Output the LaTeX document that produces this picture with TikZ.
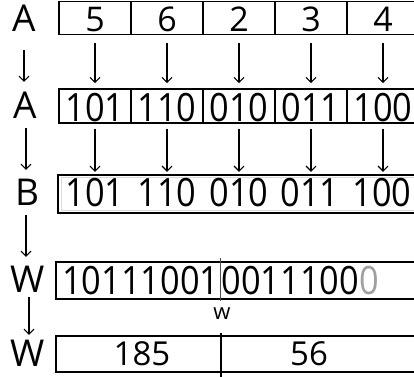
\documentclass[tikz,border=0pt]{standalone}
\usepackage{fontspec}
\setmainfont{Open Sans}
\newfontfamily\digfont[FakeStretch=0.88]{Open Sans}
\usetikzlibrary{arrows.meta}
\newcommand{\fsz}[1]{\fontsize{#1}{#1}\selectfont}
\begin{document}
\begin{tikzpicture}[x=1pt,y=-1pt,
  cellbox/.style={draw,line width=1.6pt,minimum width=72pt,inner sep=0pt,anchor=center,text depth=0pt},
  rowone/.style={cellbox,minimum height=33pt,font=\fsz{34},text height=26pt},
  rowtwo/.style={cellbox,minimum height=34pt,font=\digfont\fsz{39},text height=30pt},
  lab/.style={inner sep=0pt,font=\fsz{37},text height=25pt,text depth=0pt},
  bigtxt/.style={inner sep=0pt,font=\digfont\fsz{39}},
  wtxt/.style={inner sep=0pt,font=\digfont\fsz{39}},
  arr/.style={-{Straight Barb[length=5pt,width=10pt]},line width=1.1pt},
  frame/.style={draw,line width=1.6pt}]
\useasboundingbox (0,0) rectangle (414,376);
\clip (0,0) rectangle (414,376);
% labels
\node[lab] (la1) at (24,19) {A};
\node[lab] (la2) at (25,106) {A};
\node[lab] (lb) at (27,193) {B};
\node[lab] (lw1) at (28,280) {W};
\node[lab] (lw2) at (28,354) {W};
% row 1
\foreach \i/\x/\t in {1/95/5,2/167/6,3/239/2,4/311/3,5/383/4}
  \node[rowone] (a\i) at (\x,18) {\t};
% row 2
\foreach \i/\x/\t in {1/95/101,2/167/110,3/239/010,4/311/011,5/383/100}
  \node[rowtwo] (c\i) at (\x,106) {\t};
% row 3
\draw[frame] (58,175) rectangle (424,213);
\draw[gray!30,line width=0.8pt] (61,177.8) rectangle (424,210.2);
\foreach \i/\x/\t in {1/95/101,2/167/110,3/239/010,4/310/011,5/382/100}
  \node[bigtxt,minimum height=30pt] (b\i) at (\x,193) {\t};
% row 4
\draw[frame] (56,262) rectangle (424,299);
\node[wtxt,anchor=east] (wl) at (219.5,280.5) {10111001};
\node[wtxt,anchor=west] (wr) at (221.5,280.5) {0011100\textcolor{gray!75}{0}};
\draw[line width=1pt,black!70] (220,258) -- (220,301);
\node[inner sep=0pt,font=\fsz{22}] (wlab) at (222,314) {w};
% row 5
\draw[frame] (56,336) rectangle (424,372);
\draw[line width=1.4pt] (221,333) -- (221,380);
\node[inner sep=0pt,font=\fsz{33}] (n1) at (142,354) {185};
\node[inner sep=0pt,font=\fsz{33}] (n2) at (309,354) {56};
% arrows row1 -> row2
\foreach \i in {1,...,5}
  \draw[arr,shorten <=8pt,shorten >=5pt] (a\i.south) -- (c\i.north);
\foreach \i in {1,...,5}
  \draw[arr,shorten <=5pt,shorten >=6pt] (c\i.south) -- (c\i.south |- b\i.north);
% left arrows
\draw[arr,shorten <=18.5pt,shorten >=11.5pt] (la1.south) -- (la1.south |- la2.north);
\draw[arr,shorten <=9.5pt,shorten >=10.5pt] ([xshift=1pt]la2.south) -- ([xshift=1pt]la2.south |- lb.north);
\draw[arr,shorten <=9.5pt,shorten >=10.5pt] ([xshift=-1pt]lb.south) -- ([xshift=-1pt]lb.south |- lw1.north);
\draw[arr,shorten <=4.5pt,shorten >=6.5pt] ([xshift=1pt]lw1.south) -- ([xshift=1pt]lw1.south |- lw2.north);
\end{tikzpicture}
\end{document}
